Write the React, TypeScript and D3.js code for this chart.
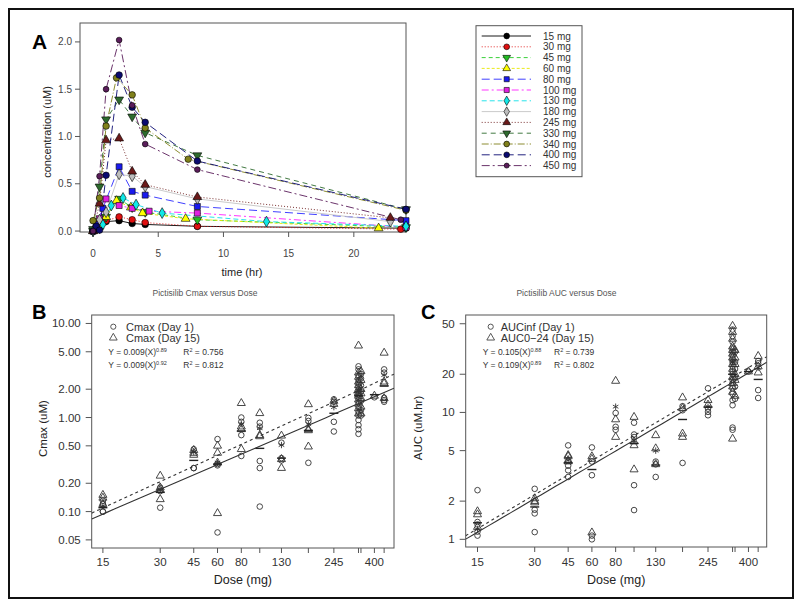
import React from 'react';
import * as d3 from 'd3';

const FONT = "'Liberation Sans', Arial, Helvetica, sans-serif";

// ---------- Panel A data: [time (hr), concentration (uM)] ----------
const doseNames = ['15 mg', '30 mg', '45 mg', '60 mg', '80 mg', '100 mg', '130 mg', '180 mg', '245 mg', '330 mg', '340 mg', '400 mg', '450 mg'];
const pk15: [number, number][] = [[0, 0], [0.5, 0.06], [1, 0.1], [2, 0.11], [3, 0.08], [4, 0.07], [8, 0.05], [24, 0.03]];
const pk30: [number, number][] = [[0, 0], [0.5, 0.09], [1, 0.11], [2, 0.15], [3, 0.12], [4, 0.09], [8, 0.05], [23.6, 0.02]];
const pk45: [number, number][] = [[0, 0], [0.5, 0.03], [1, 0.15], [2, 0.34], [3, 0.25], [4, 0.2], [8, 0.12], [24, 0.04]];
const pk60: [number, number][] = [[0, 0], [0.5, 0.05], [1, 0.15], [1.8, 0.32], [2.9, 0.25], [3.8, 0.19], [7.1, 0.13], [21.9, 0.03]];
const pk80: [number, number][] = [[0, 0], [0.25, 0.07], [0.75, 0.24], [2, 0.68], [3, 0.42], [4, 0.38], [8, 0.26], [24, 0.11]];
const pk100: [number, number][] = [[0, 0], [0.5, 0.13], [1, 0.34], [2, 0.27], [3, 0.24], [4.3, 0.21], [8, 0.19], [24, 0.04]];
const pk130: [number, number][] = [[0, 0], [0.75, 0.07], [1.4, 0.27], [2.3, 0.35], [3.3, 0.28], [5.3, 0.19], [13.3, 0.1], [24, 0.05]];
const pk180: [number, number][] = [[0, 0], [0.5, 0.12], [1, 0.2], [2, 0.6], [3, 0.58], [4, 0.47], [8, 0.34], [22.8, 0.1]];
const pk245: [number, number][] = [[0, 0], [0.5, 0.29], [1, 0.96], [2, 0.98], [3, 0.63], [4, 0.49], [8, 0.36], [22.8, 0.14]];
const pk330: [number, number][] = [[0, 0.02], [0.5, 0.47], [1, 1.18], [2, 1.39], [3, 1.21], [4, 1.04], [8, 0.8], [24, 0.23]];
const pk340: [number, number][] = [[0, 0.11], [0.5, 0.35], [1, 1.11], [1.8, 1.62], [3, 1.44], [4, 1.09], [7.3, 0.76], [24, 0.22]];
const pk400: [number, number][] = [[0, 0], [0.25, 0.05], [0.5, 0.01], [1, 0.59], [2, 1.65], [3, 1.31], [4, 1.15], [8, 0.74], [24, 0.23]];
const pk450: [number, number][] = [[0, 0], [0.5, 0.58], [1, 1.5], [2, 2.02], [3, 1.33], [4, 0.92], [8, 0.65], [23.6, 0.12]];
const pkSeries = [pk15, pk30, pk45, pk60, pk80, pk100, pk130, pk180, pk245, pk330, pk340, pk400, pk450];
const timeTicks = [0, 5, 10, 15, 20];
const concTicks = [0, 0.5, 1.0, 1.5, 2.0];

// ---------- Panel B data: [dose (mg), Cmax (uM)] ----------
const cmaxDay1: [number, number][] = [
  [15, 0.13], [15, 0.12], [15, 0.1], [15, 0.1],
  [30, 0.18], [30, 0.165], [30, 0.11],
  [45, 0.46], [45, 0.29], [45, 0.29],
  [60, 0.59], [60, 0.32], [60, 0.31], [60, 0.06],
  [80, 1.0], [80, 0.9], [80, 0.65], [80, 0.39],
  [100, 0.88], [100, 0.8], [100, 0.345], [100, 0.29], [100, 0.113],
  [130, 0.54], [130, 0.37], [130, 0.35],
  [180, 0.99], [180, 0.92], [180, 0.33],
  [245, 1.56], [245, 1.47], [245, 0.9], [245, 0.71],
  [330, 3.5], [330, 3.25], [330, 2.8], [330, 2.5], [330, 2.3], [330, 2.1], [330, 1.9], [330, 1.75], [330, 1.6], [330, 1.45], [330, 1.3], [330, 1.15], [330, 1.05], [330, 0.94], [330, 0.83], [330, 0.75], [330, 0.67],
  [340, 2.9], [340, 2.6], [340, 2.2], [340, 1.9], [340, 1.5], [340, 1.2], [340, 1.05],
  [400, 1.64],
  [450, 3.25], [450, 3.0], [450, 1.62], [450, 1.53], [450, 1.47],
];
const cmaxDay15: [number, number][] = [
  [15, 0.15], [15, 0.14], [15, 0.12],
  [30, 0.24], [30, 0.18], [30, 0.17], [30, 0.135],
  [45, 0.45], [45, 0.42], [45, 0.4],
  [60, 0.5], [60, 0.42], [60, 0.33], [60, 0.096],
  [80, 1.42], [80, 0.8], [80, 0.75], [80, 0.46],
  [100, 1.11], [100, 0.65], [100, 0.63],
  [130, 0.64], [130, 0.36], [130, 0.29],
  [180, 1.38], [180, 0.75], [180, 0.73], [180, 0.49],
  [245, 1.5], [245, 1.39],
  [330, 5.8], [330, 3.0], [330, 2.7], [330, 2.4], [330, 2.2], [330, 2.0], [330, 1.85], [330, 1.7], [330, 1.55], [330, 1.4], [330, 1.25], [330, 1.1],
  [340, 3.1], [340, 2.5], [340, 2.0], [340, 1.8], [340, 1.6], [340, 1.3], [340, 1.1],
  [400, 1.7],
  [450, 4.87], [450, 2.4], [450, 2.3], [450, 1.6],
];
const cmaxStar: [number, number][] = [[15, 0.115], [30, 0.17], [45, 0.43], [60, 0.33], [80, 0.85], [100, 0.77], [130, 0.51], [180, 0.85], [245, 1.29], [330, 1.9], [450, 2.83]];
const cmaxDash: [number, number][] = [[15, 0.11], [30, 0.16], [45, 0.35], [60, 0.32], [80, 0.72], [100, 0.47], [130, 0.37], [180, 0.73], [245, 1.11], [330, 1.7], [400, 1.75], [450, 2.16]];
const cmaxTicks = [0.05, 0.1, 0.2, 0.5, 1, 2, 5, 10];
const cmaxTickLabels = ['0.05', '0.10', '0.20', '0.50', '1.00', '2.00', '5.00', '10.00'];
const cmaxFitDay1 = [0.0088, 0.875];
const cmaxFitDay15 = [0.0088, 0.93];

// ---------- Panel C data: [dose (mg), AUC (uM.hr)] ----------
const aucDay1: [number, number][] = [
  [15, 2.44], [15, 1.37], [15, 1.31], [15, 1.15], [15, 1.07],
  [30, 2.5], [30, 1.71], [30, 1.6], [30, 1.14],
  [45, 5.5], [45, 3.8], [45, 3.5], [45, 3.1],
  [60, 5.3], [60, 4.1], [60, 3.2], [60, 1.07], [60, 1.0],
  [80, 9.9], [80, 7.7], [80, 7.3],
  [100, 8.3], [100, 6.7], [100, 6.4], [100, 2.67], [100, 1.7],
  [130, 4.1], [130, 3.9], [130, 3.1],
  [180, 11.2], [180, 10.4], [180, 4.0],
  [245, 15.5], [245, 10.7], [245, 10.1], [245, 9.5],
  [330, 45], [330, 40], [330, 36], [330, 32], [330, 30], [330, 28], [330, 26], [330, 25], [330, 23], [330, 21], [330, 20], [330, 18], [330, 17], [330, 15.5], [330, 14], [330, 12.5], [330, 11.4], [330, 7.6], [330, 7.3],
  [340, 30], [340, 25], [340, 22], [340, 19], [340, 16], [340, 12.8],
  [400, 21],
  [450, 25.4], [450, 24.4], [450, 15], [450, 13],
];
const aucDay15: [number, number][] = [
  [15, 1.66], [15, 1.57], [15, 1.25],
  [30, 2.1], [30, 2.0], [30, 1.95],
  [45, 4.6], [45, 4.5], [45, 4.2], [45, 4.1],
  [60, 4.5], [60, 4.3], [60, 1.13],
  [80, 17.7], [80, 8.8], [80, 6.4],
  [100, 9.2], [100, 5.9], [100, 5.5], [100, 3.55],
  [130, 6.6], [130, 5.2], [130, 3.9],
  [180, 13.1], [180, 10.8], [180, 6.8], [180, 6.4],
  [245, 12.5], [245, 11.5],
  [330, 48], [330, 43], [330, 38], [330, 33], [330, 31], [330, 29], [330, 27], [330, 24], [330, 22], [330, 19], [330, 17], [330, 16], [330, 14.5], [330, 6.2],
  [340, 31], [340, 27], [340, 24], [340, 20], [340, 18], [340, 13.5],
  [400, 21],
  [450, 27.8], [450, 23], [450, 20.6],
];
const aucStar: [number, number][] = [[15, 1.2], [45, 4.2], [80, 11.1], [100, 6.0], [130, 5.0], [245, 11.1], [330, 25], [450, 22.5]];
const aucDash: [number, number][] = [[15, 1.35], [30, 1.8], [45, 4.0], [60, 3.55], [100, 5.7], [130, 3.85], [180, 8.8], [245, 11], [330, 20], [400, 21], [450, 18.2]];
const aucTicks = [1, 2, 5, 10, 20, 50];
const aucTickLabels = ['1', '2', '5', '10', '20', '50'];
const aucFitDay1 = [0.105, 0.88];
const aucFitDay15 = [0.109, 0.89];

const doseTicks = [15, 30, 45, 60, 80, 100, 130, 180, 245, 330, 340, 400, 450];
const doseTickLabels = [15, 30, 45, 60, 80, 130, 245, 400];

// ---------- styles ----------
const seriesStyle = [
  { color: '#000000', fill: '#000000', dash: '', shape: 'circle' },
  { color: '#e01010', fill: '#e01010', dash: '1,2', shape: 'circle' },
  { color: '#22cc22', fill: '#22bb22', dash: '4,3', shape: 'inv' },
  { color: '#e8e800', fill: '#ffff00', dash: '3,2', shape: 'triangle' },
  { color: '#2a2aff', fill: '#1a1aee', dash: '8,4', shape: 'square' },
  { color: '#ff20ff', fill: '#e020e0', dash: '7,3,2,3', shape: 'square' },
  { color: '#10e0e8', fill: '#10e8e8', dash: '5,3', shape: 'diamond' },
  { color: '#c4c4c4', fill: '#bdbdbd', dash: '', shape: 'diamond' },
  { color: '#6b1a1a', fill: '#6b1a1a', dash: '1,2', shape: 'triangle' },
  { color: '#2e6b2e', fill: '#2e6b2e', dash: '5,4', shape: 'inv' },
  { color: '#80801a', fill: '#80801a', dash: '7,2,1,2', shape: 'circle' },
  { color: '#0a0a70', fill: '#0a0a70', dash: '8,4', shape: 'circle' },
  { color: '#5a1d5a', fill: '#5a1d5a', dash: '8,3,2,3', shape: 'circle' },
];

const symTypes: Record<string, d3.SymbolType> = {
  circle: d3.symbolCircle,
  square: d3.symbolSquare,
  triangle: d3.symbolTriangle,
  inv: d3.symbolTriangle,
  diamond: d3.symbolDiamond,
};

function symPath(shape: string, size: number): string {
  return d3.symbol().type(symTypes[shape]).size(size)() as string;
}

function Marker({ x, y, shape, size, fill, stroke, sw }: any) {
  const rot = shape === 'inv' ? ' rotate(180)' : '';
  return <path d={symPath(shape, size)} transform={`translate(${x},${y})${rot}`} fill={fill} stroke={stroke} strokeWidth={sw} />;
}

// ---------- Panel A ----------
function PanelA() {
  const left = 80, right = 406, top = 23, bottom = 232;
  const x = d3.scaleLinear().domain([-1, 24]).range([left, right]);
  const y = d3.scaleLinear().domain([-0.01, 2.2]).range([bottom, top]);
  const line = d3.line<[number, number]>().x(d => x(d[0])).y(d => y(d[1]));
  const legX0 = 481.7, legX1 = 531, legMX = 506.7, legTX = 543, legY0 = 36, legDY = 10.8;
  return (
    <g>
      <text x={32} y={48.5} fontSize={21} fontWeight="bold" fill="#000">A</text>
      <rect x={left} y={top} width={right - left} height={bottom - top} fill="none" stroke="#555" strokeWidth={1} />
      {concTicks.map(t => (
        <g key={'cy' + t}>
          <line x1={left - 5} x2={left} y1={y(t)} y2={y(t)} stroke="#555" />
          <text x={72} y={y(t) + 3.5} fontSize={10} textAnchor="end" fill="#444">{t.toFixed(1)}</text>
        </g>
      ))}
      {timeTicks.map(t => (
        <g key={'tx' + t}>
          <line x1={x(t)} x2={x(t)} y1={bottom} y2={bottom + 5} stroke="#555" />
          <text x={x(t)} y={257} fontSize={10} textAnchor="middle" fill="#444">{t}</text>
        </g>
      ))}
      <text x={242} y={276} fontSize={11} textAnchor="middle" fill="#222">time (hr)</text>
      <text transform={`translate(51,132) rotate(-90)`} fontSize={11} textAnchor="middle" fill="#222">concentration (uM)</text>
      {pkSeries.map((s, i) => (
        <path key={'l' + i} d={line(s) as string} fill="none" stroke={seriesStyle[i].color} strokeWidth={0.9} strokeDasharray={seriesStyle[i].dash} />
      ))}
      {pkSeries.map((s, i) =>
        s.map((p, j) => (
          <Marker key={'m' + i + '_' + j} x={x(p[0])} y={y(p[1])} shape={seriesStyle[i].shape}
            size={i === 12 ? 26 : seriesStyle[i].shape === 'square' ? 36 : 34}
            fill={seriesStyle[i].fill} stroke="#000" sw={0.6} />
        ))
      )}
      {/* legend */}
      <rect x={476} y={25.7} width={106} height={151} fill="#fff" stroke="#555" strokeWidth={1} />
      {doseNames.map((n, i) => {
        const ly = legY0 + i * legDY;
        return (
          <g key={'lg' + i}>
            <line x1={legX0} x2={legX1} y1={ly} y2={ly} stroke={seriesStyle[i].color} strokeWidth={0.9} strokeDasharray={seriesStyle[i].dash} />
            <Marker x={legMX} y={ly} shape={seriesStyle[i].shape} size={i === 12 ? 20 : 26} fill={seriesStyle[i].fill} stroke="#000" sw={0.6} />
            <text x={legTX} y={ly + 3.5} fontSize={10} fill="#333">{n}</text>
          </g>
        );
      })}
    </g>
  );
}

// ---------- Scatter panels ----------
function Asterisk({ x, y }: any) {
  const r = 3.2;
  const segs = [90, 30, -30].map(a => {
    const c = Math.cos((a * Math.PI) / 180) * r, s = Math.sin((a * Math.PI) / 180) * r;
    return `M${x - c},${y - s}L${x + c},${y + s}`;
  });
  return <path d={segs.join('')} stroke="#333" strokeWidth={0.9} fill="none" />;
}

function Sup({ base, exp }: any) {
  return (
    <>
      {base}
      <tspan dy={-3} fontSize={5.5}>{exp}</tspan>
      <tspan dy={3}>{''}</tspan>
    </>
  );
}

function ScatterPanel(props: any) {
  const { id, left, right, top, bottom, xDomain, yDomain, yTicks, yTickLabels, yLabelX, yLabel, day1, day15, star, dash,
    fit1, fit15, letter, letterX, title, titleX, leg1, leg2, eq1, eq2, r1, r2, legSymX, legTextX, eqX, rX } = props;
  const x = d3.scaleLog().domain(xDomain).range([left, right]);
  const y = d3.scaleLog().domain(yDomain).range([bottom, top]);
  const fitPts = (f: number[]) => {
    const xs = d3.range(0, 41).map(i => xDomain[0] * Math.pow(xDomain[1] / xDomain[0], i / 40));
    return d3.line<number>().x(d => x(d)).y(d => y(f[0] * Math.pow(d, f[1])))(xs) as string;
  };
  const cx = (left + right) / 2;
  const cy = (top + bottom) / 2;
  return (
    <g>
      <defs>
        <clipPath id={'clip' + id}>
          <rect x={left} y={top} width={right - left} height={bottom - top} />
        </clipPath>
      </defs>
      <text x={titleX} y={296} fontSize={8.5} textAnchor="middle" fill="#555">{title}</text>
      <text x={letterX} y={318.5} fontSize={20} fontWeight="bold" fill="#000">{letter}</text>
      <rect x={left} y={top} width={right - left} height={bottom - top} fill="none" stroke="#555" strokeWidth={1} />
      {yTicks.map((t: number, i: number) => (
        <g key={'yt' + i}>
          <line x1={left - 6} x2={left} y1={y(t)} y2={y(t)} stroke="#555" />
          <text x={left - 11} y={y(t) + 4} fontSize={11.5} textAnchor="end" fill="#333">{yTickLabels[i]}</text>
        </g>
      ))}
      {doseTicks.map((t: number) => (
        <line key={'xt' + t} x1={x(t)} x2={x(t)} y1={bottom} y2={bottom + 5} stroke="#555" />
      ))}
      {doseTickLabels.map((t: number) => (
        <text key={'xl' + t} x={x(t)} y={566} fontSize={11.5} textAnchor="middle" fill="#333">{t}</text>
      ))}
      <text x={cx} y={584} fontSize={12.5} textAnchor="middle" fill="#222">Dose (mg)</text>
      <text transform={`translate(${yLabelX},${cy - 3}) rotate(-90)`} fontSize={11.5} textAnchor="middle" fill="#222">{yLabel}</text>
      <g clipPath={`url(#clip${id})`}>
        <path d={fitPts(fit1)} fill="none" stroke="#333" strokeWidth={1.1} />
        <path d={fitPts(fit15)} fill="none" stroke="#333" strokeWidth={1.1} strokeDasharray="3,3" />
      </g>
      {day1.map((p: number[], i: number) => (
        <circle key={'d1' + i} cx={x(p[0])} cy={y(p[1])} r={2.8} fill="none" stroke="#333" strokeWidth={0.9} />
      ))}
      {day15.map((p: number[], i: number) => (
        <Marker key={'d15' + i} x={x(p[0])} y={y(p[1])} shape="triangle" size={28} fill="none" stroke="#333" sw={0.9} />
      ))}
      {star.map((p: number[], i: number) => (
        <Asterisk key={'st' + i} x={x(p[0])} y={y(p[1])} />
      ))}
      {dash.map((p: number[], i: number) => (
        <line key={'ds' + i} x1={x(p[0]) - 4.5} x2={x(p[0]) + 4.5} y1={y(p[1])} y2={y(p[1])} stroke="#222" strokeWidth={1.4} />
      ))}
      {/* legend */}
      <circle cx={legSymX} cy={326.7} r={2.6} fill="none" stroke="#444" strokeWidth={0.9} />
      <text x={legTextX} y={330.5} fontSize={11} fill="#333">{leg1}</text>
      <Marker x={legSymX} y={337.8} shape="triangle" size={26} fill="none" stroke="#444" sw={0.9} />
      <text x={legTextX} y={341.5} fontSize={11} fill="#333">{leg2}</text>
      <text x={eqX} y={355} fontSize={8.5} fill="#333"><Sup base={eq1[0]} exp={eq1[1]} /></text>
      <text x={rX} y={355} fontSize={8.5} fill="#333">R<tspan dy={-3} fontSize={5.5}>2</tspan><tspan dy={3}>{' = ' + r1}</tspan></text>
      <text x={eqX} y={368} fontSize={8.5} fill="#333"><Sup base={eq2[0]} exp={eq2[1]} /></text>
      <text x={rX} y={368} fontSize={8.5} fill="#333">R<tspan dy={-3} fontSize={5.5}>2</tspan><tspan dy={3}>{' = ' + r2}</tspan></text>
    </g>
  );
}

export default function App() {
  return (
    <svg width={800} height={603} style={{ position: 'absolute', left: 0, top: 0, display: 'block' }} fontFamily={FONT}>
      <rect x={0} y={0} width={800} height={603} fill="#fff" />
      <rect x={9} y={9} width={784} height={589} fill="none" stroke="#111" strokeWidth={2} />
      <PanelA />
      <ScatterPanel
        id="B" left={91.7} right={394} top={315} bottom={548}
        xDomain={[13.1, 507]} yDomain={[0.041, 12.3]}
        yTicks={cmaxTicks} yTickLabels={cmaxTickLabels}
        yLabelX={46.5} yLabel="Cmax (uM)"
        day1={cmaxDay1} day15={cmaxDay15} star={cmaxStar} dash={cmaxDash}
        fit1={cmaxFitDay1} fit15={cmaxFitDay15}
        letter="B" letterX={32} title="Pictisilib Cmax versus Dose" titleX={205}
        leg1="Cmax (Day 1)" leg2="Cmax (Day 15)"
        eq1={['Y = 0.009(X)', '0.89']} eq2={['Y = 0.009(X)', '0.92']} r1="0.756" r2="0.812"
        legSymX={113.3} legTextX={126} eqX={108.3} rX={183.3}
      />
      <ScatterPanel
        id="C" left={465.7} right={766.7} top={315} bottom={547}
        xDomain={[13.0, 499]} yDomain={[0.87, 58.6]}
        yTicks={aucTicks} yTickLabels={aucTickLabels}
        yLabelX={422} yLabel="AUC (uM.hr)"
        day1={aucDay1} day15={aucDay15} star={aucStar} dash={aucDash}
        fit1={aucFitDay1} fit15={aucFitDay15}
        letter="C" letterX={421} title="Pictisilib AUC versus Dose" titleX={566.5}
        leg1="AUCinf (Day 1)" leg2="AUC0−24 (Day 15)"
        eq1={['Y = 0.105(X)', '0.88']} eq2={['Y = 0.109(X)', '0.89']} r1="0.739" r2="0.802"
        legSymX={490.7} legTextX={500.7} eqX={482.7} rX={554}
      />
    </svg>
  );
}
